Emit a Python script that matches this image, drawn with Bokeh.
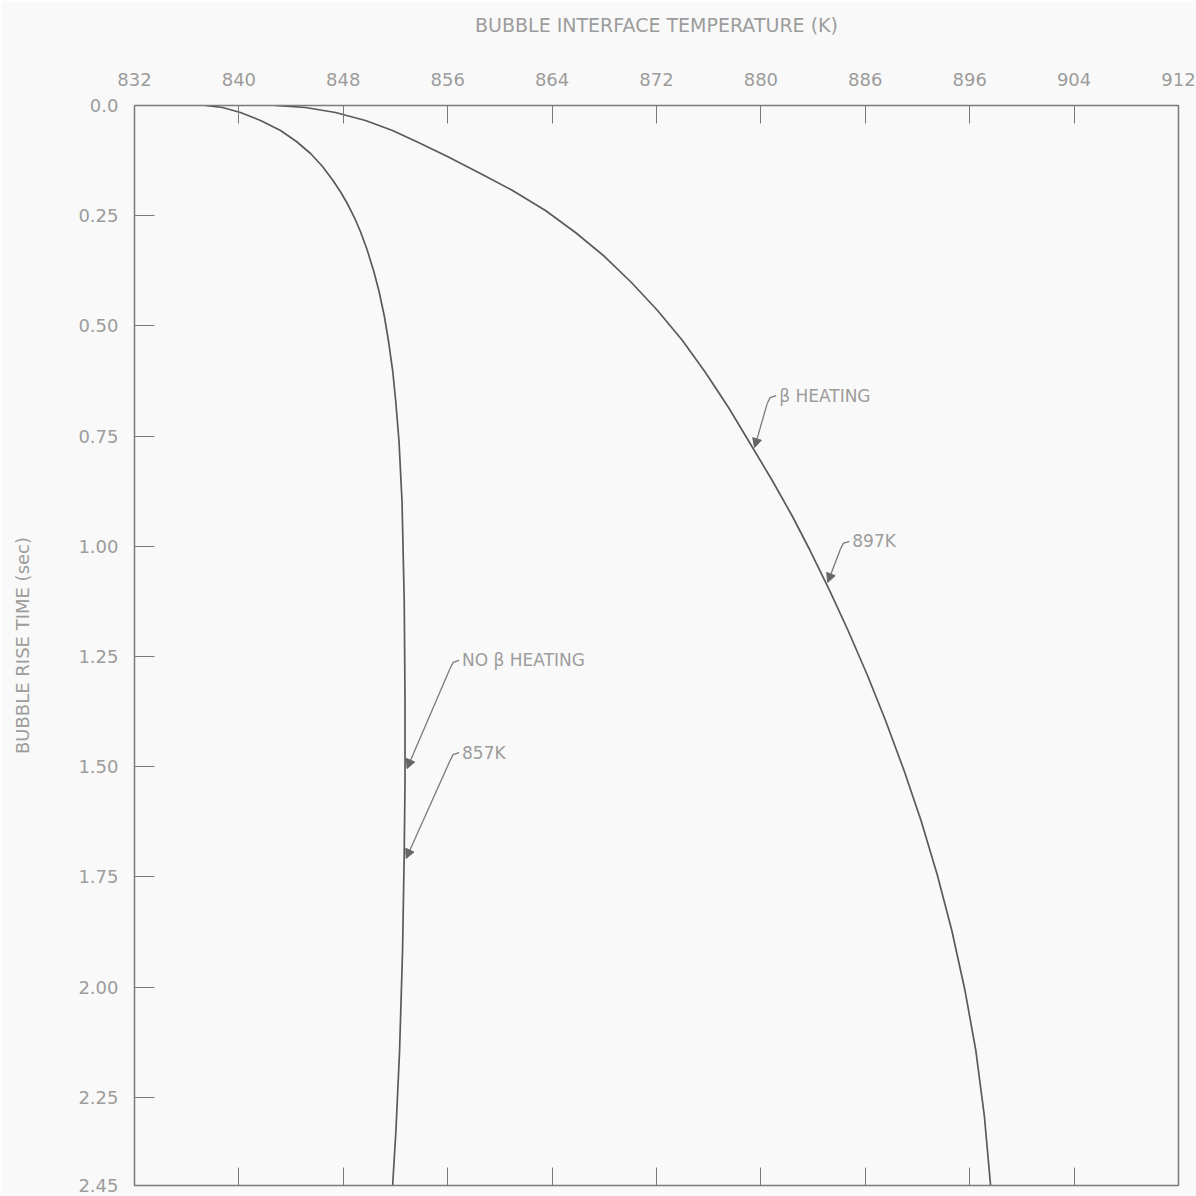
import numpy as np
from bokeh.plotting import figure
from bokeh.models import Range1d, LinearAxis, FixedTicker, Arrow, NormalHead, Label
from bokeh.embed import file_html
from bokeh.resources import INLINE

# ---- data ----
time_no_beta = [0.0, 0.0045, 0.0159, 0.0340, 0.0567, 0.0817, 0.1089, 0.1384, 0.1701, 0.1974,
                0.2246, 0.2541, 0.2858, 0.3267, 0.3766, 0.4220, 0.4787, 0.5354, 0.6034, 0.6715,
                0.7622, 0.8984, 1.1252, 1.3521, 1.5336, 1.6924, 1.9192, 2.1461, 2.3276, 2.45]
temp_no_beta = [837.44, 838.74, 840.12, 841.66, 843.19, 844.41, 845.49, 846.41, 847.21, 847.82,
                848.35, 848.85, 849.31, 849.82, 850.34, 850.74, 851.15, 851.47, 851.79, 852.02,
                852.27, 852.50, 852.67, 852.73, 852.73, 852.67, 852.54, 852.31, 852.03, 851.78]

time_beta = [0.0, 0.0045, 0.0159, 0.0340, 0.0567, 0.0839, 0.1157, 0.1520, 0.1928, 0.2382,
             0.2881, 0.3426, 0.4015, 0.4651, 0.5331, 0.6057, 0.6851, 0.7759, 0.8507, 0.9301,
             1.0095, 1.1003, 1.1910, 1.2931, 1.3952, 1.5086, 1.6221, 1.7468, 1.8716, 2.0077,
             2.1438, 2.2913, 2.45]
temp_beta = [842.80, 845.10, 847.40, 849.70, 851.77, 853.76, 855.98, 858.36, 860.97, 863.49,
             865.79, 868.02, 870.08, 872.08, 873.99, 875.75, 877.52, 879.36, 880.87, 882.38,
             883.77, 885.27, 886.68, 888.17, 889.55, 890.97, 892.27, 893.53, 894.63, 895.64,
             896.47, 897.12, 897.60]

x_ticks = [832, 840, 848, 856, 864, 872, 880, 888, 896, 904, 912]
x_tick_labels = ["832", "840", "848", "856", "864", "872", "880", "886", "896", "904", "912"]
y_ticks = [0.0, 0.25, 0.50, 0.75, 1.00, 1.25, 1.50, 1.75, 2.00, 2.25, 2.45]
y_tick_labels = ["0.0", "0.25", "0.50", "0.75", "1.00", "1.25", "1.50", "1.75", "2.00", "2.25", "2.45"]

# annotation texts: (text, text x [K], text y [s], which curve, arrow tip time [s])
notes = [
    ("\u03b2 HEATING", 881.4, 0.658, "beta", 0.776),
    ("897K", 887.0, 0.989, "beta", 1.082),
    ("NO \u03b2 HEATING", 857.1, 1.259, "no_beta", 1.504),
    ("857K", 857.1, 1.468, "no_beta", 1.708),
]

TXT = "#9c9c9c"
LN = "#5a5a5a"
FRAME = "#7a7a7a"
FONT = "DejaVu Sans"

p = figure(width=1196, height=1196, output_backend="svg", toolbar_location=None,
           x_range=Range1d(832, 912), y_range=Range1d(2.45, 0.0),
           x_axis_location="above",
           min_border_left=134, min_border_right=18, min_border_top=105, min_border_bottom=11)

p.background_fill_color = "#f9f9f9"
p.border_fill_color = "#f9f9f9"
p.grid.visible = False
p.outline_line_color = FRAME
p.outline_line_width = 1.5

# top axis
ax = p.xaxis[0]
ax.ticker = FixedTicker(ticks=x_ticks)
ax.major_label_overrides = {t: l for t, l in zip(x_ticks, x_tick_labels)}
ax.axis_label = "BUBBLE INTERFACE TEMPERATURE (K)"
ax.axis_label_text_font = FONT
ax.axis_label_text_font_style = "normal"
ax.axis_label_text_font_size = "19px"
ax.axis_label_text_color = TXT
ax.axis_label_standoff = 34
ax.major_label_text_font = FONT
ax.major_label_text_font_size = "18px"
ax.major_label_text_color = TXT
ax.major_label_standoff = 20
ax.major_tick_in = 18
ax.major_tick_out = 0
ax.minor_tick_line_color = None
ax.major_tick_line_color = FRAME
ax.axis_line_color = FRAME

# bottom axis: ticks only
bx = LinearAxis(ticker=FixedTicker(ticks=x_ticks), major_label_text_font_size="0px",
                major_label_standoff=0, major_tick_in=18, major_tick_out=0,
                minor_tick_line_color=None, major_tick_line_color=FRAME,
                axis_line_color=FRAME)
bx.major_label_overrides = {t: "" for t in x_ticks}
p.add_layout(bx, "below")

# left axis
ay = p.yaxis[0]
ay.ticker = FixedTicker(ticks=y_ticks)
ay.major_label_overrides = {t: l for t, l in zip(y_ticks, y_tick_labels)}
ay.axis_label = "BUBBLE RISE TIME (sec)"
ay.axis_label_text_font = FONT
ay.axis_label_text_font_style = "normal"
ay.axis_label_text_font_size = "18px"
ay.axis_label_text_color = TXT
ay.axis_label_standoff = 42
ay.major_label_text_font = FONT
ay.major_label_text_font_size = "18px"
ay.major_label_text_color = TXT
ay.major_label_standoff = 16
ay.major_tick_in = 20
ay.major_tick_out = 0
ay.minor_tick_line_color = None
ay.major_tick_line_color = FRAME
ay.axis_line_color = FRAME

# curves
p.line(temp_no_beta, time_no_beta, line_color=LN, line_width=1.7, line_join="round")
p.line(temp_beta, time_beta, line_color=LN, line_width=1.7, line_join="round")

curves = {"beta": (time_beta, temp_beta), "no_beta": (time_no_beta, temp_no_beta)}
dx = 80.0 / 1044.0   # K per pixel
dy = 2.45 / 1080.0   # s per pixel
for text, tx, ty, key, t_tip in notes:
    tt, TT = curves[key]
    x_tip = float(np.interp(t_tip, tt, TT))
    # short hook from text
    hx0, hy0 = tx - 3 * dx, ty
    hx1, hy1 = tx - 9 * dx, ty + 2 * dy
    hx2, hy2 = tx - 12 * dx, ty + 8 * dy
    p.line([hx0, hx1, hx2], [hy0, hy1, hy2], line_color=FRAME, line_width=1.3)
    p.add_layout(Arrow(end=NormalHead(size=9, fill_color="#666666", line_color="#666666"),
                       x_start=hx2, y_start=hy2, x_end=x_tip + 2 * dx, y_end=t_tip,
                       line_color=FRAME, line_width=1.3))
    p.add_layout(Label(x=tx, y=ty, text=text, text_font=FONT, text_font_size="17px",
                       text_color=TXT, text_baseline="middle", text_align="left"))

open("out.html", "w").write(file_html(p, INLINE))
